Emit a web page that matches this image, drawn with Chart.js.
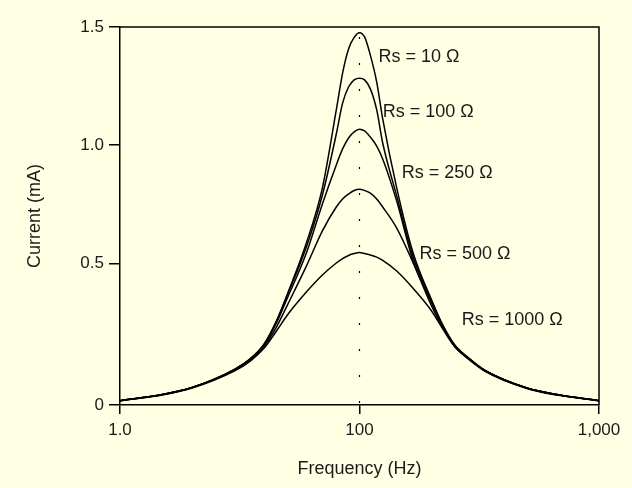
<!DOCTYPE html>
<html>
<head>
<meta charset="utf-8">
<script src="https://cdn.jsdelivr.net/npm/chart.js@4"></script>
<style>
    html, body { margin: 0; padding: 0; background: #ffffe4; }
    canvas { display: block; }
</style>
</head>
<body>
<canvas id="myChart" width="632" height="488"></canvas>
<script>
// frequencies (Hz), log axis
const frequencies = [10, 15, 20, 30, 35, 40, 45, 50, 60, 70, 80, 85, 90, 95, 100,
    105, 111, 118, 125, 143, 167, 200, 222, 250, 286, 333, 500, 667, 1000];

// current (mA) for each series resistor
const rs10 = [-0.082, -0.056, -0.026, 0.050, 0.095, 0.158, 0.256, 0.370, 0.586, 0.819, 1.149, 1.305, 1.407, 1.456, 1.476,
    1.458, 1.381, 1.267, 1.111, 0.819, 0.548, 0.344, 0.241, 0.154, 0.099, 0.048, -0.028, -0.056, -0.082];
const rs100 = [-0.082, -0.056, -0.026, 0.050, 0.095, 0.158, 0.253, 0.366, 0.569, 0.789, 1.047, 1.178, 1.246, 1.276, 1.283,
    1.276, 1.238, 1.149, 1.009, 0.785, 0.531, 0.340, 0.239, 0.152, 0.098, 0.048, -0.028, -0.056, -0.082];
const rs250 = [-0.082, -0.056, -0.026, 0.050, 0.095, 0.156, 0.247, 0.353, 0.543, 0.751, 0.916, 0.984, 1.030, 1.056, 1.067,
    1.060, 1.034, 0.996, 0.941, 0.763, 0.514, 0.332, 0.237, 0.150, 0.096, 0.046, -0.028, -0.056, -0.082];
const rs500 = [-0.082, -0.056, -0.026, 0.048, 0.093, 0.150, 0.230, 0.323, 0.488, 0.637, 0.738, 0.772, 0.793, 0.808, 0.813,
    0.808, 0.797, 0.772, 0.738, 0.649, 0.505, 0.319, 0.230, 0.148, 0.095, 0.046, -0.028, -0.056, -0.082];
const rs1000 = [-0.082, -0.058, -0.028, 0.044, 0.086, 0.141, 0.213, 0.281, 0.378, 0.450, 0.501, 0.520, 0.533, 0.541, 0.545,
    0.541, 0.535, 0.526, 0.512, 0.467, 0.395, 0.298, 0.224, 0.146, 0.093, 0.044, -0.030, -0.058, -0.082];

const seriesList = [rs10, rs100, rs250, rs500, rs1000];

// curve labels, anchored in data coordinates (left edge, middle)
const labelTexts = ['Rs = 10 \u03A9', 'Rs = 100 \u03A9', 'Rs = 250 \u03A9', 'Rs = 500 \u03A9', 'Rs = 1000 \u03A9'];
const labelFreq = [120, 125, 150, 178, 267];
const labelCurrent = [1.374, 1.141, 0.881, 0.539, 0.26];

const xTickValues = [10, 100, 1000];
const xTickLabels = ['1.0', '100', '1,000'];
const yTickValues = [-0.1, 0.5, 1.0, 1.5];
const yTickLabels = ['0', '0.5', '1.0', '1.5'];

const fontFamily = 'Arial, "Liberation Sans", sans-serif';
const textColor = '#1a1a1a';

const framePlugin = {
    id: 'frame',
    afterDatasetsDraw(chart) {
        const ctx = chart.ctx;
        const area = chart.chartArea;
        const xScale = chart.scales.x;
        const yScale = chart.scales.y;

        // dotted marker at resonance
        let xMid = xScale.getPixelForValue(100);
        ctx.save();
        ctx.strokeStyle = '#000';
        ctx.lineWidth = 1.2;
        ctx.setLineDash([2, 24]);
        ctx.beginPath();
        ctx.moveTo(xMid, area.bottom - 2);
        ctx.lineTo(xMid, area.top);
        ctx.stroke();
        ctx.restore();

        // top and right frame lines
        ctx.save();
        ctx.strokeStyle = '#000';
        ctx.lineWidth = 1.5;
        ctx.beginPath();
        ctx.moveTo(area.left, area.top);
        ctx.lineTo(area.right, area.top);
        ctx.lineTo(area.right, area.bottom);
        ctx.stroke();
        ctx.restore();

        // curve labels
        ctx.save();
        ctx.fillStyle = textColor;
        ctx.font = '18px ' + fontFamily;
        ctx.textAlign = 'left';
        ctx.textBaseline = 'middle';
        for (let i = 0; i < labelTexts.length; i++) {
            let px = xScale.getPixelForValue(labelFreq[i]);
            let py = yScale.getPixelForValue(labelCurrent[i]);
            ctx.fillText(labelTexts[i], px, py);
        }
        ctx.restore();
    }
};

const datasets = seriesList.map(function (values) {
    return {
        data: values.map((v, i) => ({x: frequencies[i], y: v})),
        borderColor: '#000',
        borderWidth: 1.5,
        pointRadius: 0,
        fill: false,
        cubicInterpolationMode: 'monotone'
    };
});

const ctx = document.getElementById('myChart').getContext('2d');

const myChart = new Chart(ctx, {
    type: 'line',
    data: {datasets: datasets},
    plugins: [framePlugin],
    options: {
        responsive: false,
        animation: false,
        layout: {padding: {left: 0, right: 33, top: 27, bottom: 0}},
        plugins: {
            legend: {display: false},
            tooltip: {enabled: false}
        },
        scales: {
            x: {
                type: 'logarithmic',
                min: 10,
                max: 1000,
                afterBuildTicks: function (scale) {
                    scale.ticks = xTickValues.map(v => ({value: v}));
                },
                afterFit: function (scale) {
                    scale.height = 83;
                },
                grid: {drawOnChartArea: false, drawTicks: true, tickLength: 9, color: '#000', lineWidth: 1.5},
                border: {display: true, color: '#000', width: 1.5},
                ticks: {
                    autoSkip: false,
                    maxRotation: 0,
                    padding: 6,
                    color: textColor,
                    font: {family: fontFamily, size: 17},
                    callback: function (value, index) {
                        return xTickLabels[index];
                    }
                },
                title: {
                    display: true,
                    text: 'Frequency (Hz)',
                    color: textColor,
                    font: {family: fontFamily, size: 18},
                    padding: {top: 0, bottom: 8}
                }
            },
            y: {
                type: 'linear',
                min: -0.1,
                max: 1.5,
                afterBuildTicks: function (scale) {
                    scale.ticks = yTickValues.map(v => ({value: v}));
                },
                afterFit: function (scale) {
                    scale.width = 120;
                },
                grid: {drawOnChartArea: false, drawTicks: true, tickLength: 11, color: '#000', lineWidth: 1.5},
                border: {display: true, color: '#000', width: 1.5},
                ticks: {
                    autoSkip: false,
                    padding: 5,
                    color: textColor,
                    font: {family: fontFamily, size: 17},
                    callback: function (value, index) {
                        return yTickLabels[index];
                    }
                },
                title: {
                    display: true,
                    text: 'Current (mA)',
                    color: textColor,
                    font: {family: fontFamily, size: 18},
                    padding: {top: 24, bottom: 0}
                }
            }
        }
    }
});
</script>
</body>
</html>
